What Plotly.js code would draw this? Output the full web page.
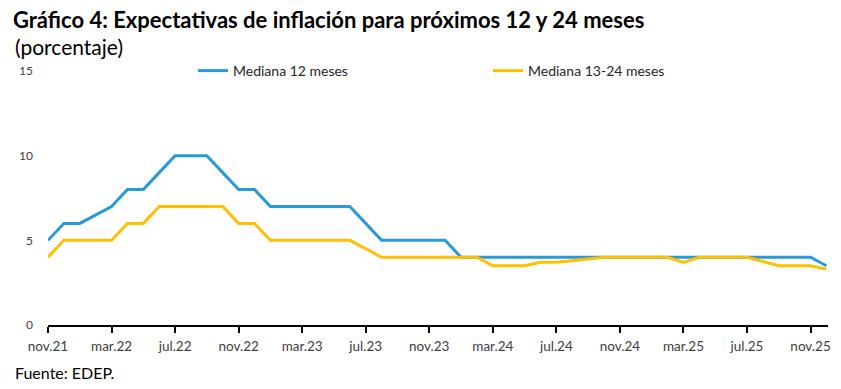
<!DOCTYPE html>
<html>
<head>
<meta charset="utf-8">
<script src="https://cdn.plot.ly/plotly-3.0.1.min.js"></script>
<style>html,body{margin:0;padding:0;background:#fff;}#chart{width:841px;height:389px;}</style>
</head>
<body>
<div id="chart"></div>
<script>
const months = [
  "nov.21","dic.21",
  "ene.22","feb.22","mar.22","abr.22","may.22","jun.22","jul.22","ago.22","sep.22","oct.22","nov.22","dic.22",
  "ene.23","feb.23","mar.23","abr.23","may.23","jun.23","jul.23","ago.23","sep.23","oct.23","nov.23","dic.23",
  "ene.24","feb.24","mar.24","abr.24","may.24","jun.24","jul.24","ago.24","sep.24","oct.24","nov.24","dic.24",
  "ene.25","feb.25","mar.25","abr.25","may.25","jun.25","jul.25","ago.25","sep.25","oct.25","nov.25","dic.25"
];
const mediana12 = [
  5, 6,
  6, 6.5, 7, 8, 8, 9, 10, 10, 10, 9, 8, 8,
  7, 7, 7, 7, 7, 7, 6, 5, 5, 5, 5, 5,
  4, 4, 4, 4, 4, 4, 4, 4, 4, 4, 4, 4,
  4, 4, 4, 4, 4, 4, 4, 4, 4, 4, 4, 3.5
];
const mediana1324 = [
  4, 5,
  5, 5, 5, 6, 6, 7, 7, 7, 7, 7, 6, 6,
  5, 5, 5, 5, 5, 5, 4.5, 4, 4, 4, 4, 4,
  4, 4, 3.5, 3.5, 3.5, 3.7, 3.7, 3.8, 3.9, 4, 4, 4,
  4, 4, 3.7, 4, 4, 4, 4, 3.75, 3.5, 3.5, 3.5, 3.3
];
const tickLabels = ["nov.21","mar.22","jul.22","nov.22","mar.23","jul.23","nov.23","mar.24","jul.24","nov.24","mar.25","jul.25","nov.25"];
const yTicks = [0, 5, 10, 15];

const FONT = "Lato, 'Open Sans', sans-serif";

const traces = [
  {x: months, y: mediana12, type: "scatter", mode: "lines", name: "Mediana 12 meses",
   line: {color: "#299AD6", width: 3}},
  {x: months, y: mediana1324, type: "scatter", mode: "lines", name: "Mediana 13-24 meses",
   line: {color: "#FFC000", width: 3}}
];

// plot area: top 71px, bottom 325px (height 254)
const pY = (px) => (325 - px) / 254;

const layout = {
  width: 841, height: 389,
  margin: {l: 48, r: 13, t: 71, b: 64, autoexpand: false},
  paper_bgcolor: "#fff", plot_bgcolor: "#fff",
  font: {family: FONT, size: 12, color: "#404040"},
  title: {
    text: "<b>Gráfico 4: Expectativas de inflación para próximos 12 y 24 meses</b>",
    font: {family: FONT, size: 22, color: "#000"},
    xref: "container", x: 13/841, xanchor: "left",
    yref: "container", y: 1 - 20/389, yanchor: "middle"
  },
  showlegend: true,
  legend: {
    orientation: "h",
    xref: "container", yref: "container",
    x: 193/841, xanchor: "left",
    y: 1 - 71/389, yanchor: "middle",
    entrywidth: 250, entrywidthmode: "pixels",
    font: {family: FONT, size: 14, color: "#262626"},
    bgcolor: "rgba(0,0,0,0)"
  },
  xaxis: {
    type: "category",
    range: [0, 49.1],
    tickmode: "array",
    tickvals: tickLabels,
    ticktext: tickLabels,
    showgrid: false, zeroline: false,
    showline: true, linecolor: "#000", linewidth: 2,
    ticks: "outside", ticklen: 6, tickwidth: 2, tickcolor: "#000",
    ticklabelstandoff: 2,
    tickfont: {family: FONT, size: 13.5, color: "#404040"},
    fixedrange: true
  },
  yaxis: {
    range: [0, 15],
    tickmode: "array",
    tickvals: yTicks,
    showgrid: false, zeroline: false, showline: false,
    ticks: "", ticklabelstandoff: 14,
    tickfont: {family: FONT, size: 12, color: "#404040"},
    fixedrange: true
  },
  annotations: [
    {text: "(porcentaje)", xref: "paper", yref: "paper",
     x: -35/780, xanchor: "left", y: pY(47), yanchor: "middle",
     showarrow: false, font: {family: FONT, size: 21, color: "#000"}},
    {text: "Fuente: EDEP.", xref: "paper", yref: "paper",
     x: -35/780, xanchor: "left", y: pY(372), yanchor: "middle",
     showarrow: false, font: {family: FONT, size: 16, color: "#000"}}
  ]
};

Plotly.newPlot("chart", traces, layout, {displayModeBar: false, staticPlot: true});
</script>
</body>
</html>
